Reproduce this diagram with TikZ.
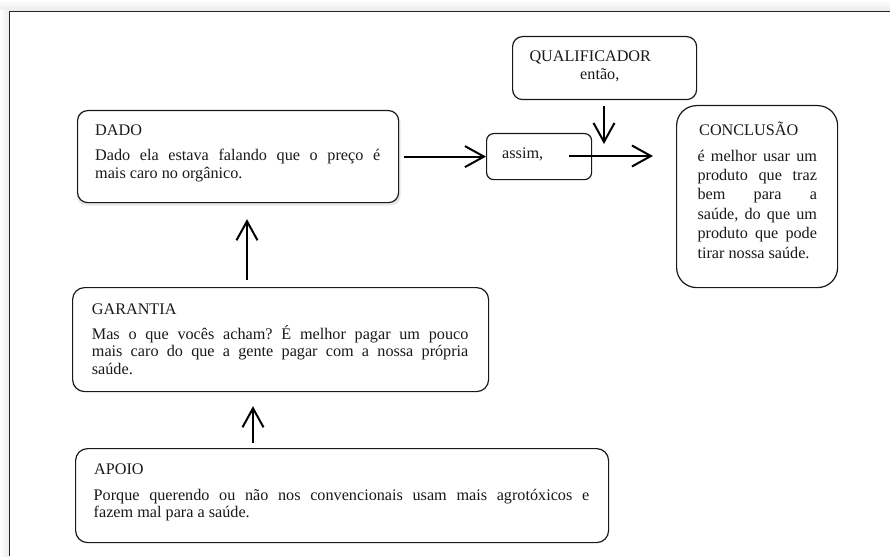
\documentclass[tikz,border=0pt]{standalone}
\usepackage{fontspec}
\setmainfont{Liberation Serif}
\usetikzlibrary{arrows.meta,shadows}
\frenchspacing
\begin{document}
\begin{tikzpicture}[x=1pt,y=-1pt,
  box/.style={draw=black!90,line width=1.2pt,fill=white,inner sep=0pt,anchor=north west},
  txt/.style={inner sep=0pt,anchor=base west,text=black!90,font=\fontsize{16.2}{17.3}\selectfont},
  arr/.style={line width=2pt,draw=black,-{Straight Barb[length=19pt,width=21pt]}}]
\useasboundingbox (0,0) rectangle (890,556);
% page frame with faint outer shadow
\fill[top color=white,bottom color=black!8] (0,0) rectangle (890,11);
\fill[left color=white,right color=black!8] (0,11) rectangle (9,556);
\draw[line width=1.3pt,draw=black!85] (9.5,556) -- (9.5,11.5) -- (890,11.5);

% boxes
\node[box,rounded corners=10pt,minimum width=321pt,minimum height=92pt,
  drop shadow={opacity=0.18,shadow xshift=0.5pt,shadow yshift=-2.5pt,shadow scale=1.01}] (dado) at (77,110) {};
\node[box,rounded corners=10pt,minimum width=184pt,minimum height=63pt] (qual) at (512,36) {};
\node[box,rounded corners=7pt,minimum width=105pt,minimum height=46pt] (assim) at (486,133) {};
\node[box,rounded corners=20pt,minimum width=161pt,minimum height=182pt] (conc) at (676,105) {};
\node[box,rounded corners=12pt,minimum width=416pt,minimum height=104pt] (gar) at (72,287) {};
\node[box,rounded corners=12pt,minimum width=533pt,minimum height=94pt] (apoio) at (75,448) {};

% texts
\node[txt] (dadoH) at (95,135.7) {DADO};
\node[txt] (dadoB) at (95,160.7) {\parbox[t]{285pt}{\makebox[285pt][s]{Dado ela estava falando que o preço é}\par mais caro no orgânico.}};

\node[txt] (qualH) at (529.3,61.7) {QUALIFICADOR};
\node[txt] (qualB) at (580,80) {então,};

\node[txt] (assimT) at (502,158.5) {assim,};

\node[txt] (concH) at (699,136) {CONCLUSÃO};
\node[txt,font=\fontsize{16.2}{19.4}\selectfont] (concB) at (697.3,161) {\parbox[t]{119.5pt}{%
\makebox[119.5pt][s]{é melhor usar um}\par
\makebox[119.5pt][s]{produto que traz}\par
\makebox[119.5pt][s]{bem para a}\par
\makebox[119.5pt][s]{saúde, do que um}\par
\makebox[119.5pt][s]{produto que pode}\par
tirar nossa saúde.}};

\node[txt] (garH) at (91.7,314.3) {GARANTIA};
\node[txt] (garB) at (91.7,339.5) {\parbox[t]{376.5pt}{%
\makebox[376.5pt][s]{Mas o que vocês acham? É melhor pagar um pouco}\par
\makebox[376.5pt][s]{mais caro do que a gente pagar com a nossa própria}\par
saúde.}};

\node[txt] (apoioH) at (94,474.3) {APOIO};
\node[txt] (apoioB) at (93.5,500) {\parbox[t]{495.5pt}{%
\makebox[495.5pt][s]{Porque querendo ou não nos convencionais usam mais agrotóxicos e}\par
fazem mal para a saúde.}};

% connectors
\coordinate (u1) at (247,0);
\coordinate (u2) at (253,0);
\coordinate (a2) at (569,156);
\coordinate (qt) at (604,144);
\draw[arr,shorten <=7pt,shorten >=16pt] (gar.north -| u1) -- (dado.south -| u1);
\draw[arr,shorten <=5pt,shorten >=14pt] (apoio.north -| u2) -- (gar.south -| u2);
\draw[arr,shorten <=5pt] (dado.east) -- (assim.west);
\draw[arr,shorten >=23pt] (a2) -- (a2 -| conc.west);
\draw[arr,shorten <=6pt] (qt |- qual.south) -- (qt);
\end{tikzpicture}
\end{document}
